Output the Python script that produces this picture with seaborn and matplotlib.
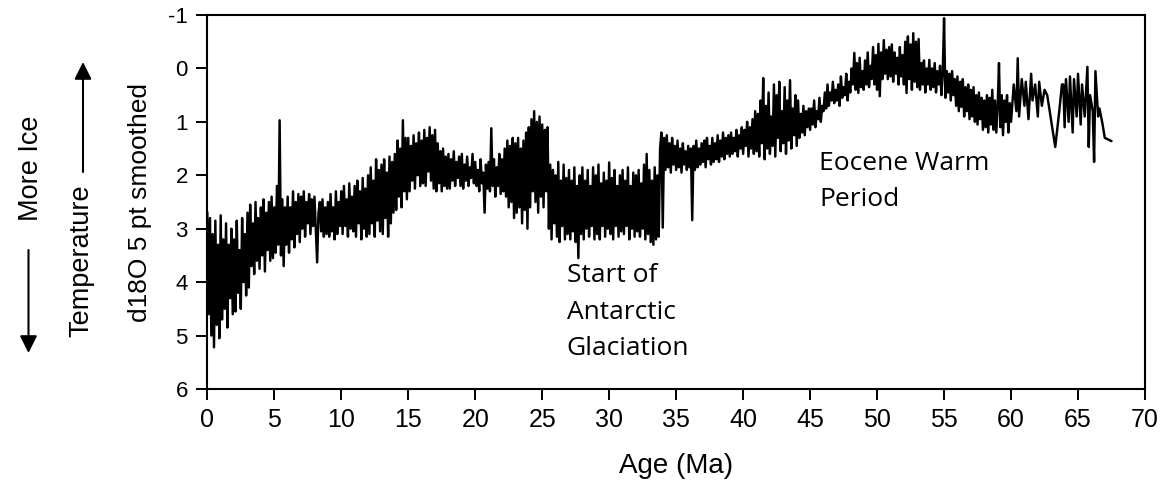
import numpy as np
import pandas as pd
import matplotlib
matplotlib.use("Agg")
import matplotlib.pyplot as plt
import seaborn as sns

# ---------------- data ----------------
# d18O values sampled every 0.1 Ma, one block per 10 Ma
d18o_00_10 = [
    2.69, 4.6, 2.8, 5.0, 3.1, 5.22, 2.85, 4.8, 3.3, 5.05,
    2.75, 4.7, 3.2, 4.5, 2.9, 4.85, 3.3, 4.3, 3.0, 4.6,
    3.2, 4.55, 2.85, 4.2, 3.4, 4.5, 2.8, 4.0, 3.1, 4.25,
    2.7, 4.1, 2.55, 3.7, 2.9, 3.85, 2.5, 3.6, 2.8, 3.75,
    2.6, 3.5, 2.45, 3.8, 2.7, 3.4, 2.5, 3.6, 2.4, 3.55,
    2.6, 3.45, 2.2, 3.3, 0.97, 3.5, 2.45, 3.7, 2.6, 3.3,
    2.4, 3.45, 2.6, 3.2, 2.3, 3.35, 2.5, 3.1, 2.35, 3.25,
    2.4, 3.0, 2.3, 3.15, 2.5, 2.9, 2.35, 3.1, 2.45, 2.95,
    2.4, 3.0, 3.63, 2.7, 2.5, 3.05, 2.45, 3.15, 2.6, 3.1,
    2.5, 3.15, 2.35, 3.05, 2.6, 3.2, 2.3, 3.1, 2.5, 2.95,
]
d18o_10_20 = [
    2.3, 3.1, 2.2, 2.95, 2.45, 3.15, 2.15, 3.0, 2.4, 3.05,
    2.2, 3.15, 2.1, 2.9, 2.3, 3.2, 2.05, 3.0, 2.25, 3.15,
    2.0, 3.1, 1.85, 2.9, 2.1, 3.15, 1.7, 2.85, 1.9, 3.05,
    1.8, 3.1, 1.7, 2.8, 1.95, 3.15, 1.65, 2.9, 1.75, 2.7,
    1.6, 2.65, 1.35, 2.4, 1.5, 2.6, 0.97, 2.3, 1.3, 2.45,
    1.3, 2.3, 1.45, 2.1, 1.25, 2.25, 1.4, 2.0, 1.2, 2.2,
    1.35, 2.15, 1.15, 2.2, 1.3, 1.93, 1.1, 2.1, 1.25, 2.25,
    1.15, 2.3, 1.4, 2.15, 1.55, 2.3, 1.5, 2.2, 1.65, 2.25,
    1.6, 2.25, 1.7, 2.1, 1.55, 2.2, 1.75, 2.05, 1.65, 2.2,
    1.6, 2.25, 1.8, 2.1, 1.65, 2.2, 1.85, 2.05, 1.6, 2.15,
]
d18o_20_30 = [
    1.75, 2.2, 1.9, 2.3, 1.7, 2.15, 1.95, 2.7, 1.8, 2.25,
    1.75, 2.3, 1.12, 2.2, 1.7, 2.4, 1.85, 2.2, 1.6, 2.35,
    1.7, 2.3, 1.5, 2.4, 1.35, 2.6, 1.45, 2.5, 1.3, 2.8,
    1.4, 2.7, 1.3, 2.6, 1.5, 2.9, 1.35, 2.65, 1.2, 3.0,
    1.1, 2.6, 0.95, 2.3, 0.8, 2.5, 1.0, 2.7, 0.9, 2.4,
    1.05, 2.6, 1.15, 2.3, 1.1, 3.0, 1.8, 3.2, 1.9, 2.9,
    2.0, 3.15, 1.75, 3.25, 2.1, 2.95, 1.8, 3.2, 2.05, 3.1,
    1.9, 3.2, 2.1, 3.05, 1.85, 3.25, 2.2, 3.55, 2.0, 3.1,
    1.85, 3.2, 2.1, 3.0, 1.9, 3.15, 2.2, 2.95, 1.85, 3.2,
    2.0, 3.1, 1.8, 3.2, 2.15, 2.95, 1.95, 3.15, 2.1, 3.0,
]
d18o_30_40 = [
    1.76, 3.1, 2.05, 3.2, 1.9, 2.95, 2.2, 3.15, 2.0, 3.05,
    1.9, 3.1, 2.1, 2.95, 1.85, 3.2, 2.2, 3.0, 1.95, 3.15,
    2.0, 3.05, 1.9, 3.15, 2.15, 3.0, 1.8, 3.2, 1.6, 3.1,
    1.9, 3.25, 2.1, 3.3, 1.85, 3.2, 2.0, 3.15, 1.5, 1.2,
    2.98, 1.3, 1.9, 1.25, 1.85, 1.4, 1.95, 1.3, 1.8, 1.45,
    1.9, 1.35, 1.85, 1.5, 1.95, 1.4, 1.8, 1.55, 1.9, 1.45,
    1.85, 1.5, 2.84, 1.45, 1.9, 1.35, 1.85, 1.5, 1.8, 1.4,
    1.75, 1.35, 1.85, 1.3, 1.7, 1.45, 1.8, 1.3, 1.75, 1.4,
    1.7, 1.25, 1.75, 1.35, 1.65, 1.2, 1.7, 1.3, 1.6, 1.25,
    1.65, 1.2, 1.6, 1.3, 1.55, 1.15, 1.65, 1.25, 1.5, 1.1,
]
d18o_40_50 = [
    1.6, 1.15, 1.45, 1.0, 1.65, 1.1, 1.5, 0.95, 1.6, 0.8,
    1.55, 0.85, 1.65, 0.6, 1.4, 0.18, 1.7, 0.7, 1.5, 0.45,
    1.6, 0.9, 1.45, 0.3, 1.65, 0.5, 1.3, 0.25, 1.55, 0.8,
    1.4, 0.35, 1.6, 0.6, 1.35, 0.22, 1.5, 0.75, 1.25, 0.5,
    1.45, 0.6, 1.3, 0.85, 1.2, 0.7, 1.25, 0.8, 1.1, 0.75,
    1.15, 0.75, 1.05, 0.6, 1.1, 0.8, 0.95, 0.55, 1.0, 0.7,
    0.8, 0.45, 0.75, 0.3, 0.7, 0.45, 0.6, 0.25, 0.65, 0.4,
    0.6, 0.3, 0.7, 0.15, 0.55, 0.35, 0.5, 0.1, 0.6, 0.25,
    0.45, 0.0, 0.3, -0.29, 0.4, -0.1, 0.46, -0.2, 0.35, 0.05,
    0.4, -0.15, 0.3, -0.3, 0.35, -0.05, 0.2, -0.4, 0.3, -0.25,
]
d18o_50_60 = [
    0.4, -0.46, 0.52, -0.3, 0.2, -0.53, 0.1, -0.35, 0.2, -0.4,
    0.15, -0.45, 0.25, -0.3, 0.1, -0.2, 0.3, -0.4, 0.15, -0.25,
    0.3, -0.5, 0.46, -0.6, 0.2, -0.45, 0.4, -0.66, 0.25, -0.5,
    0.35, -0.55, 0.4, -0.1, 0.3, -0.15, 0.45, 0.0, 0.3, -0.16,
    0.4, 0.0, 0.35, -0.1, 0.45, 0.05, 0.3, -0.05, 0.5, 0.1,
    -0.94, 0.55, 0.05, 0.45, 0.1, 0.6, 0.05, 0.5, 0.2, 0.7,
    0.15, 0.8, 0.25, 0.72, 0.2, 0.9, 0.35, 0.8, 0.3, 0.95,
    0.4, 0.9, 0.35, 1.0, 0.5, 1.05, 0.45, 0.95, 0.55, 1.15,
    0.6, 1.1, 0.5, 1.2, 0.55, 1.05, 0.4, 1.15, 0.6, 1.2,
    0.7, -0.1, 1.1, 0.5, 1.25, 0.6, 1.0, 0.5, 1.2, 0.65,
]
# sparser record beyond 60 Ma
tail_age = [60.0, 60.2, 60.4, 60.5, 60.6, 60.8, 61.0, 61.1, 61.3, 61.5,
            61.6, 61.8, 62.0, 62.1, 62.3, 62.5, 62.7, 63.3, 63.6, 63.8,
            63.9, 64.0, 64.1, 64.3, 64.4, 64.6, 64.7, 64.9, 65.0, 65.2,
            65.3, 65.5, 65.7, 65.8, 65.9, 66.1, 66.2, 66.3, 66.5, 66.6,
            66.8, 67.0, 67.5]
tail_d18o = [1.0, 0.3, 0.8, -0.19, 0.9, 0.2, 0.7, 0.25, 0.95, 0.1,
             0.6, 0.3, 0.9, 0.25, 0.7, 0.4, 0.5, 1.47, 0.8, 0.3,
             0.3, 1.1, 0.2, 1.0, 0.15, 1.2, 0.2, 0.9, 0.1, 1.05,
             0.3, 0.9, -0.03, 1.47, 0.5, 0.8, 1.75, 0.05, 0.9, 0.75,
             1.0, 1.3, 1.36]

x_ticks = list(range(0, 71, 5))
y_ticks = list(range(-1, 7))

dense = d18o_00_10 + d18o_10_20 + d18o_20_30 + d18o_30_40 + d18o_40_50 + d18o_50_60
dense_age = list(np.round(np.arange(len(dense)) * 0.1, 1))
df = pd.DataFrame({"age": dense_age + tail_age, "d18o": dense + tail_d18o})

# ---------------- style ----------------
sns.set_style("ticks")
plt.rcParams["font.family"] = ["Liberation Sans", "DejaVu Sans"]
plt.rcParams["axes.unicode_minus"] = False
for k in ["text.color", "axes.labelcolor", "xtick.color", "ytick.color", "axes.edgecolor"]:
    plt.rcParams[k] = "black"

W, H = 1173, 482
fig = plt.figure(figsize=(W / 100, H / 100), dpi=100)
fig.patch.set_facecolor("white")
L, R, T, B = 207.3, 1145.0, 15.0, 389.0
ax = fig.add_axes([L / W, 1 - B / H, (R - L) / W, (B - T) / H])

sns.lineplot(data=df, x="age", y="d18o", color="black", linewidth=1.75,
             estimator=None, sort=False, ax=ax)

narrow = ["Liberation Sans Narrow", "Liberation Sans", "DejaVu Sans"]
ax.set_xlim(0, 70)
ax.set_ylim(6, -1)
ax.set_xticks(x_ticks)
ax.set_yticks(y_ticks)
ax.set_xticklabels([str(v) for v in x_ticks], family=narrow, fontsize=18)
ax.set_yticklabels([str(v) for v in y_ticks], fontsize=16)
for s in ax.spines.values():
    s.set_visible(True)
    s.set_linewidth(1.5)
    s.set_color("black")
ax.tick_params(direction="out", length=8, width=1.4, pad=6, colors="black")

ax.set_xlabel("Age (Ma)", fontsize=20, family=narrow, va="top")
ax.xaxis.set_label_coords(0.5, (B - 453) / (B - T))
ax.set_ylabel("d18O 5 pt smoothed", fontsize=19, va="center")
ax.yaxis.set_label_coords((140 - L) / (R - L), 0.5)

# annotations
ann_font = ["Open Sans", "DejaVu Sans"]
for i, line in enumerate(["Start of", "Antarctic", "Glaciation"]):
    ax.annotate(line, xy=(26.84, 4.0), xytext=(0, -i * 26.4), textcoords="offset points",
                fontsize=19, family=ann_font, va="baseline", ha="left", color="black")
for i, line in enumerate(["Eocene Warm", "Period"]):
    ax.annotate(line, xy=(45.67, 1.90), xytext=(0, -i * 25.9), textcoords="offset points",
                fontsize=19, family=ann_font, va="baseline", ha="left", color="black")

# side labels with arrows
def fxy(px, py):
    return (px / W, 1 - py / H)

fig.text(*fxy(81, 261), "Temperature", rotation=90, fontsize=19.5, ha="center", va="center")
fig.text(*fxy(31, 168), "More Ice", rotation=90, fontsize=19.5, ha="center", va="center")
arrow = dict(arrowstyle="-|>", color="black", lw=1.5, mutation_scale=26, shrinkA=0, shrinkB=0)
fig.add_artist(matplotlib.patches.FancyArrowPatch(fxy(83, 172), fxy(83, 62), transform=fig.transFigure, **arrow))
fig.add_artist(matplotlib.patches.FancyArrowPatch(fxy(28.5, 250), fxy(28.5, 353), transform=fig.transFigure, **arrow))

fig.savefig("out.png", dpi=100, facecolor="white")
